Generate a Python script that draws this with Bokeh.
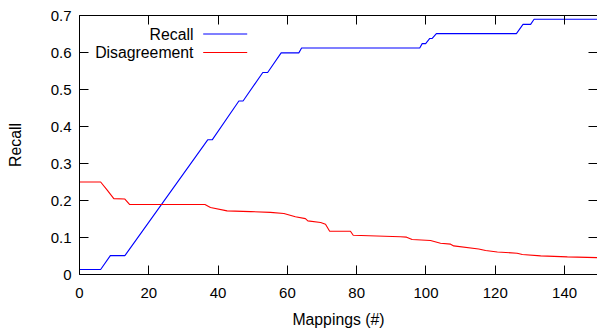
from bokeh.plotting import figure
from bokeh.models import Range1d, LinearAxis, FixedTicker, CustomJSTickFormatter, Label, Arrow
from bokeh.embed import file_html
from bokeh.resources import INLINE

# ---- data ----
recall_x = [0, 6.1, 8.9, 13.1, 37.0, 38.3, 46.0, 47.2, 52.9, 54.3, 58.2, 63.3, 64.1,
            98.2, 98.9, 99.9, 101.1, 101.8, 103.0, 126.1, 128.0, 130.2, 131.2, 150]
recall_y = [0.0135, 0.0135, 0.051, 0.051, 0.364, 0.364, 0.469, 0.469, 0.546, 0.546, 0.599, 0.599, 0.612,
            0.612, 0.624, 0.624, 0.638, 0.638, 0.651, 0.651, 0.676, 0.676, 0.690, 0.690]

disagree_x = [0, 6.1, 8.0, 9.9, 13.1, 14.5, 36.2, 37.8, 42.6, 49.4, 55.1, 59.0, 62.3, 65.2, 65.9,
              69.6, 71.0, 72.2, 78.2, 79.0, 92.6, 94.4, 96.0, 101.3, 104.2, 107.1, 108.0, 115.2,
              117.2, 120.6, 126.3, 127.8, 133.1, 140.8, 150]
disagree_y = [0.250, 0.250, 0.228, 0.205, 0.204, 0.189, 0.189, 0.181, 0.172, 0.170, 0.168, 0.165, 0.156,
              0.151, 0.145, 0.1405, 0.136, 0.117, 0.117, 0.106, 0.102, 0.101, 0.0945, 0.0918, 0.0846,
              0.082, 0.0773, 0.069, 0.0648, 0.061, 0.0576, 0.054, 0.0503, 0.0476, 0.0455]

x_ticks = [0, 20, 40, 60, 80, 100, 120, 140]
y_ticks = [0, 0.1, 0.2, 0.3, 0.4, 0.5, 0.6, 0.7]
series_names = ["Recall", "Disagreement"]
series_colors = ["#0000ff", "#ff0000"]
x_label = "Mappings (#)"
y_label = "Recall"

FONT = "Liberation Sans"
TICK_FS = "15px"
LABEL_FS = "15.8px"

p = figure(width=597, height=334, output_backend="svg", toolbar_location=None,
           x_range=Range1d(0, 149.5), y_range=Range1d(0, 0.7),
           min_border_left=79, min_border_right=0, min_border_top=15, min_border_bottom=60,
           x_axis_location=None, y_axis_location=None)
p.outline_line_color = None
p.xgrid.visible = False
p.ygrid.visible = False
p.background_fill_color = "white"
p.border_fill_color = "white"

fmt_y = CustomJSTickFormatter(code="return tick == 0 ? '0' : tick.toFixed(1);")
fmt_blank = CustomJSTickFormatter(code="return '';")

def style(ax):
    ax.major_tick_in = 9
    ax.major_tick_out = 0
    ax.minor_tick_in = 0
    ax.minor_tick_out = 0
    ax.major_tick_line_color = "black"
    ax.axis_line_color = "black"
    ax.axis_line_width = 1
    ax.major_label_text_font = FONT
    ax.major_label_text_font_size = TICK_FS
    ax.major_label_text_color = "black"
    ax.axis_label_text_font = FONT
    ax.axis_label_text_font_size = LABEL_FS
    ax.axis_label_text_font_style = "normal"
    ax.axis_label_text_color = "black"

bottom = LinearAxis(ticker=FixedTicker(ticks=x_ticks), axis_label=x_label)
style(bottom)
bottom.major_label_standoff = 13
bottom.axis_label_standoff = 10
p.add_layout(bottom, "below")

left = LinearAxis(ticker=FixedTicker(ticks=y_ticks), formatter=fmt_y, axis_label=y_label)
style(left)
left.major_label_standoff = 8
left.axis_label_standoff = 24
p.add_layout(left, "left")

top = LinearAxis(ticker=FixedTicker(ticks=x_ticks), formatter=fmt_blank)
style(top)
top.major_label_standoff = 0
p.add_layout(top, "above")

right = LinearAxis(ticker=FixedTicker(ticks=y_ticks), formatter=fmt_blank)
style(right)
right.major_label_standoff = 0
right.axis_line_color = None
p.add_layout(right, "right")

p.line(recall_x, recall_y, line_color=series_colors[0], line_width=1.1)
p.line(disagree_x, disagree_y, line_color=series_colors[1], line_width=1.1)

# legend (gnuplot style: text right-aligned, sample to the right)
leg_text_x = 32.9
leg_line_x0, leg_line_x1 = 35.7, 48.4
leg_rows_y = [0.650, 0.600]
for name, col, yy in zip(series_names, series_colors, leg_rows_y):
    p.add_layout(Label(x=leg_text_x, y=yy, text=name, text_align="right", text_baseline="middle",
                       text_font=FONT, text_font_size=LABEL_FS, text_color="black"))
    p.add_layout(Arrow(x_start=leg_line_x0, y_start=yy, x_end=leg_line_x1, y_end=yy,
                       start=None, end=None, line_color=col, line_width=1.1))

open("out.html", "w").write(file_html(p, INLINE))
